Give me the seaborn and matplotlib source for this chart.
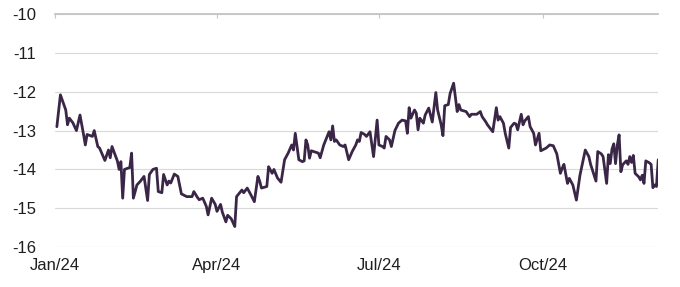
import numpy as np
import pandas as pd
import matplotlib
matplotlib.use("Agg")
import matplotlib.pyplot as plt
import seaborn as sns

# ---- data: day offset from 1 Jan 2024 and value ----
day_offset = [
    1, 3, 6, 7, 8, 10, 12, 14, 16, 17, 18, 21, 22, 24, 25, 28, 30, 31, 32, 35,
    36, 37, 38, 39, 42, 43, 44, 46,
    48, 50, 52, 53, 55, 57, 58, 60, 61, 63, 64, 65, 67, 69, 71, 74, 77, 78, 80, 81,
    83, 85, 86, 88, 90, 91, 93, 94, 96,
    97, 99, 101, 102, 105, 106, 108, 110, 112, 114, 115, 116, 119, 120, 122, 123,
    125, 127, 129, 131, 133, 134, 135, 137, 139, 140, 141, 142, 143,
    144, 146, 148, 149, 151, 154, 155, 156, 157, 158, 160, 162, 163, 165, 167, 169,
    170, 171, 172, 174, 175, 177, 179, 181, 182, 184, 185, 186, 188, 189, 191,
    193, 195, 197, 198, 199, 200, 202, 203, 204, 205, 207, 208, 210, 212, 214, 215,
    217, 218, 219, 221, 222, 224, 226, 227, 228, 231, 233, 234, 237,
    239, 240, 242, 243, 246, 248, 249, 250, 252, 253, 255, 256, 258, 259, 260, 262,
    263, 264, 266, 267, 269, 270, 272, 273, 276, 278, 280, 282, 284, 285, 286,
    288, 289, 291, 293, 295, 298, 300, 301, 304, 305, 307, 308, 310, 311, 312, 313,
    314, 315, 316, 317, 318, 319, 321, 322, 323, 324, 325, 326, 328, 329, 330, 331,
    332, 334, 335, 336, 337, 338, 339,
]
values = [
    -12.9, -12.08, -12.47, -12.85, -12.68, -12.8, -13.0, -12.6, -13.1, -13.37,
    -13.1, -13.15, -13.0, -13.41, -13.45, -13.77, -13.5, -13.7, -13.41, -13.78,
    -14.0, -13.8, -14.74, -14.0, -13.95, -13.58, -14.74, -14.4,
    -14.3, -14.18, -14.8, -14.13, -14.0, -13.97, -14.57, -14.6, -14.13, -14.4,
    -14.3, -14.35, -14.12, -14.18, -14.63, -14.7, -14.7, -14.57, -14.72, -14.78,
    -14.74, -14.95, -15.17, -14.74, -14.9, -15.08, -14.9, -15.1, -15.35,
    -15.18, -15.27, -15.47, -14.7, -14.53, -14.6, -14.48, -14.65, -14.83, -14.18,
    -14.3, -14.48, -14.44, -13.93, -14.1, -14.0, -14.22, -14.33, -13.75, -13.58,
    -13.37, -13.5, -13.07, -13.75, -13.8, -13.78, -13.24, -13.37, -13.71,
    -13.52, -13.55, -13.58, -13.7, -13.37, -13.03, -13.24, -12.88, -13.28, -13.24,
    -13.37, -13.41, -13.37, -13.75, -13.54, -13.37, -13.24, -13.28, -13.05, -13.1,
    -13.15, -13.03, -13.67, -12.73, -13.37, -13.41, -13.45, -13.15, -13.24, -13.41,
    -13.0,
    -12.81, -12.73, -12.75, -13.07, -12.41, -12.68, -12.47, -12.55, -12.98, -12.68,
    -12.81, -12.6, -12.42, -12.78, -12.02, -12.47, -12.85, -13.13, -12.36, -12.33,
    -12.05, -11.78, -12.51, -12.33, -12.47, -12.51, -12.64, -12.58, -12.58,
    -12.51, -12.64, -12.77, -12.85, -13.03, -12.41, -12.73, -12.64, -12.81, -13.07,
    -13.45, -12.92, -12.81, -12.83, -12.98, -12.58, -12.85, -12.75, -12.64, -12.9,
    -13.07, -13.37, -13.07, -13.52, -13.45, -13.37, -13.39, -13.6, -14.1, -13.97,
    -13.87,
    -14.36, -14.23, -14.4, -14.79, -14.15, -13.5, -13.67, -13.87, -14.3, -13.54,
    -13.6, -13.67, -14.36, -13.62, -13.85, -13.48, -13.34, -13.85, -13.37, -13.11,
    -14.06, -13.88, -13.78, -13.87, -13.67, -13.82, -13.64, -14.1, -14.19, -14.27,
    -14.15, -14.36, -13.78, -13.83, -13.87, -14.47, -14.4, -14.44, -13.75,
]
tick_dates = ["2024-01-01", "2024-04-01", "2024-07-01", "2024-10-01"]
tick_labels = ["Jan/24", "Apr/24", "Jul/24", "Oct/24"]
y_ticks = [-16, -15, -14, -13, -12, -11, -10]
y_labels = ["-16", "-15", "-14", "-13", "-12", "-11", "-10"]
x_start, x_end = "2024-01-01", "2024-12-05"

n = min(len(day_offset), len(values))
df = pd.DataFrame({
    "date": pd.Timestamp("2024-01-01") + pd.to_timedelta(day_offset[:n], unit="D"),
    "value": values[:n],
})

sns.set_style("white")
plt.rcParams["font.family"] = ["Liberation Sans", "DejaVu Sans"]
plt.rcParams["axes.unicode_minus"] = False

fig = plt.figure(figsize=(6.8, 2.87), dpi=100)
ax = fig.add_axes([0.081, 0.139, 0.887, 0.812])
sns.lineplot(data=df, x="date", y="value", color="#3a2647", linewidth=2.0, ax=ax)

ax.set_ylim(-16, -10)
ax.set_yticks(y_ticks)
ax.set_yticklabels(y_labels)
ax.set_xlim(pd.Timestamp(x_start), pd.Timestamp(x_end))
ax.set_xticks(pd.to_datetime(tick_dates))
ax.set_xticklabels(tick_labels)
ax.set_xlabel("")
ax.set_ylabel("")

ax.yaxis.grid(True, color="#d9d9d9", linewidth=0.8)
ax.xaxis.grid(False)
for s in ["left", "right", "bottom"]:
    ax.spines[s].set_visible(False)
ax.spines["top"].set_color("#c4c4c4")
ax.spines["top"].set_linewidth(1.3)

ax.tick_params(axis="x", bottom=False, top=True, labelbottom=True, labeltop=False,
               direction="in", length=3, color="#c4c4c4", labelsize=12,
               labelcolor="#1e1e1e", pad=8)
ax.tick_params(axis="y", left=False, labelsize=12, labelcolor="#1e1e1e", pad=10)

fig.savefig("out.png", dpi=100)
